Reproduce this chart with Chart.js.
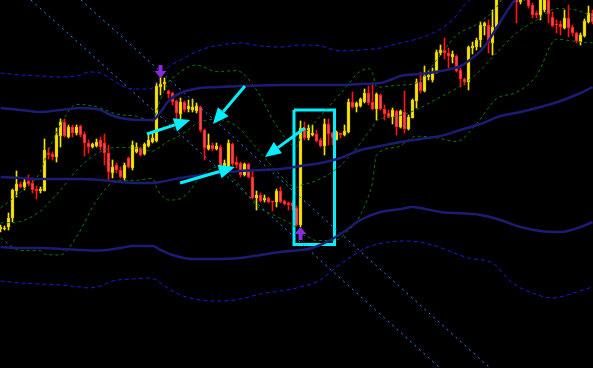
<!DOCTYPE html>
<html>
<head>
<meta charset="utf-8">
<style>
  html, body { margin: 0; padding: 0; background: #000; }
  #wrap { width: 593px; height: 368px; }
</style>
<script src="https://cdn.jsdelivr.net/npm/chart.js@4.4.0/dist/chart.umd.min.js"></script>
</head>
<body>
<div id="wrap"><canvas id="chart"></canvas></div>
<script>
// candle data, one value per bar (price in points)
const opens = [139,139,141,150,177,184,181,187,185,179,177,177,215,214,211,232,246,231,241,235,
  242,234,225,221,222,228,225,215,195,203,198,190,210,200,216,220,214,222,226,227,
  281,284,277,275,267,254,266,259,258,257,261,238,219,223,219,221,201,201,224,206,
  205,193,204,191,170,173,168,170,167,166,177,167,165,165,160,143,240,230,233,234,
  228,222,244,235,228,235,233,236,266,261,262,266,275,266,259,273,259,255,251,257,
  241,256,239,250,267,286,277,291,288,295,315,318,315,311,312,298,289,286,320,321,
  328,342,343,325,341,371,378,374,380,376,366,370,370,363,355,353,358,368,351,344,
  344,340,350,341,335,326,332,346,355];
const highs = [143,142,155,179,197,186,189,193,190,182,181,229,220,216,240,249,249,243,243,243,
  243,236,228,225,229,231,234,223,208,205,201,205,211,227,225,221,225,233,235,285,
  293,290,278,276,268,270,267,268,269,265,262,239,234,225,225,223,208,228,225,211,
  206,205,205,197,177,175,173,171,167,179,181,168,166,167,162,247,246,243,243,238,
  230,249,249,236,237,235,243,269,276,266,270,279,282,285,275,274,263,258,260,258,
  258,277,253,269,289,296,302,297,300,318,323,330,320,317,313,300,290,322,326,330,
  346,346,348,358,376,382,384,385,383,380,371,380,373,365,357,373,372,371,356,348,
  347,358,363,343,336,335,349,362,358];
const lows = [136,138,138,146,171,180,178,182,175,169,175,177,209,208,206,221,231,230,231,233,
  231,212,215,220,221,218,203,188,190,195,190,188,200,198,215,212,213,221,225,226,
  273,278,270,263,248,248,256,256,256,255,236,208,218,217,218,200,200,200,202,200,
  191,192,190,169,158,166,166,165,157,161,165,163,158,158,142,141,228,228,232,226,
  221,213,223,223,228,230,232,235,260,256,261,265,263,258,248,258,248,250,244,233,
  240,235,238,250,260,275,276,288,286,295,313,309,300,305,296,281,283,278,314,318,
  321,333,315,313,340,368,370,371,372,345,364,368,360,350,350,348,356,345,341,335,
  333,339,331,332,325,323,331,345,344];
const closes = [141,140,150,178,184,181,186,184,178,177,179,218,213,211,233,246,232,241,235,241,
  233,225,221,224,226,221,215,196,201,198,191,203,201,223,221,213,224,228,230,282,
  284,286,274,266,255,266,258,262,261,262,238,220,223,219,222,202,205,225,204,203,
  193,204,191,170,173,167,170,166,166,177,166,164,163,162,143,240,230,240,235,227,
  222,244,234,230,236,233,237,266,261,265,269,275,265,259,274,259,254,251,258,241,
  257,239,251,268,286,277,292,293,296,316,318,315,312,314,297,289,286,321,322,328,
  343,345,325,341,371,378,374,380,376,366,368,376,362,353,353,370,368,354,342,343,
  341,350,340,335,327,333,347,355,346];

// indicator lines: [bar, price]
const bandUpper = [[0,260],[5,258],[10,256],[15,258],[20,260],[25,258],[27,254],[30,250],[35,248],[38,248],
  [40,256],[42,267],[45,275],[50,280],[55,281],[60,282],[65,282.5],[70,283],[75,283],[80,283],[85,283],
  [90,284],[95,285],[98,289],[100,292],[105,294],[110,297],[115,302],[118,310],[120,317],[122,327],
  [124,340],[126,353],[128,365],[130,374],[135,393],[140,408],[148,423]];
const bandMiddle = [[0,191],[5,190],[10,189],[15,189],[20,189],[25,188],[30,186],[35,185],[38,185],[40,186],
  [45,190],[50,193],[55,195],[60,197],[65,198],[70,199],[75,202],[80,205],[85,210],[90,218],[95,222],
  [100,226],[105,229],[110,232],[115,238],[120,244],[125,252],[130,256],[135,261],[140,267],[145,275],[148,281]];
const bandLower = [[0,121],[5,120],[10,120],[15,119],[20,118],[25,117.5],[30,120],[33,122],[38,122],[40,118],
  [43,113],[48,109],[55,109],[60,110],[65,113],[70,116],[75,118],[78,120],[82,127],[85,134],[90,148],
  [95,156],[100,159],[103,161],[105,160],[110,156],[120,153],[125,148],[130,141],[135,137],[140,136],
  [145,141],[148,146]];
const outerUpper = [[0,295],[5,293],[10,292],[15,291],[20,293],[22,296],[25,295],[28,288],[30,283],[33,279],
  [37,279],[38,280],[40,292],[42,301],[45,308],[50,318],[55,323],[60,325],[65,322],[70,321],[75,323],
  [80,322],[85,317],[90,318],[95,320],[100,325],[105,330],[110,339],[113,348],[116,363],[118,371],[122,388]];
const outerLower = [[0,87],[5,85],[10,84],[15,83],[20,81],[22,80],[25,82],[28,87],[33,89],[37,90],[39,88],
  [41,82],[45,73],[50,68],[55,67],[60,69],[65,74],[70,77],[75,81],[80,88],[83,98],[88,112],[92,121],
  [97,126],[102,127],[108,123],[117,110],[123,105],[128,85],[133,75],[138,70],[144,76],[148,81]];
const fastUpper = [[0,160],[5,176],[10,196.5],[11,207.6],[15,243],[19,263.6],[24,261.2],[29,253.9],[34,251.7],
  [38,247],[39,256.8],[40,268.6],[42,286],[44,293],[47,301.1],[49,302.9],[54,296.5],[59,297.4],[64,278],
  [69,242.3],[74,221.5],[75,230.2],[77,238.4],[79,247.4],[84,270.1],[87,283.6],[89,293.7],[92,299.5],
  [93,295.4],[94,281.1],[95,281],[99,282.7],[104,285],[109,307.8],[114,332.9],[119,343.5],[124,360.9],
  [129,394.5],[134,403.5],[139,390],[144,389],[148,378]];
const fastMiddle = [[0,145],[5,146.7],[10,156.9],[11,160.8],[15,178],[19,197.4],[24,214.2],[29,220.5],
  [34,219.7],[38,216.8],[39,218.8],[40,221.4],[42,227],[44,230.6],[47,238.3],[49,244.5],[54,248.7],
  [59,241.8],[64,220.1],[69,196.9],[74,180.7],[75,182.6],[77,184.6],[79,187.4],[84,199.1],[87,210.8],
  [89,219.9],[92,235.7],[93,240.6],[94,247.1],[99,251.7],[104,258.4],[109,269],[114,279.7],[119,293.9],
  [124,315.1],[129,335.1],[134,347.9],[139,359.4],[144,357.8],[148,351.5]];
const fastLower = [[0,130],[5,117.5],[10,117.3],[11,114],[15,113],[19,131.2],[24,167.2],[29,187.1],
  [34,187.7],[38,189.7],[39,180.8],[40,174.1],[42,168],[44,168.2],[47,175.5],[49,186.1],[54,200.9],
  [59,186.2],[64,162.3],[69,151.5],[74,139.9],[75,135],[77,130.8],[79,127.4],[84,128.1],[87,137.9],
  [89,146.1],[92,171.9],[93,185.7],[94,213.1],[99,220.7],[104,231.8],[109,230.2],[114,226.5],
  [119,244.3],[124,269.3],[129,275.7],[134,292.3],[139,328.8],[144,326.4],[148,325.1]];

// drawn objects
const channelLines = [[[7.6,368],[109.9,0]], [[20.1,368],[122.4,0]]];
const boxX = [73.375, 83.5];
const boxY = [123.5, 258];
const arrowFrom = [[36.6,234],[61.1,282],[44.9,185],[76.1,240]];
const arrowTo = [[47.4,248],[53.1,244],[58.6,201],[66.1,211]];
const sellSignals = [[40,290]];
const buySignals = [[75,141]];

const bars = opens.map((o, i) => i);
const up = opens.map((o, i) => closes[i] >= o);

function pts(list) { return list.map(([x, y]) => ({ x, y })); }
function band(list, color, width, dash) {
  return { type: 'line', data: pts(list), borderColor: color, borderWidth: width,
    borderDash: dash, pointRadius: 0, cubicInterpolationMode: 'monotone', fill: false, order: 0 };
}

const boxPts = [[boxX[0],boxY[1]],[boxX[1],boxY[1]],[boxX[1],boxY[0]],[boxX[0],boxY[0]],[boxX[0],boxY[1]]];

const drawings = {
  id: 'drawings',
  afterDatasetsDraw(chart) {
    const c = chart.ctx, sx = chart.scales.x, sy = chart.scales.y;
    c.save();
    c.fillStyle = '#00f0ff';
    c.strokeStyle = '#00f0ff';
    arrowFrom.forEach((f, k) => {
      const x1 = sx.getPixelForValue(f[0]), y1 = sy.getPixelForValue(f[1]);
      const x2 = sx.getPixelForValue(arrowTo[k][0]), y2 = sy.getPixelForValue(arrowTo[k][1]);
      const a = Math.atan2(y2 - y1, x2 - x1);
      const hl = 16, hw = 7;
      c.lineWidth = 3;
      c.beginPath();
      c.moveTo(x1, y1);
      c.lineTo(x2 - hl * Math.cos(a), y2 - hl * Math.sin(a));
      c.stroke();
      c.beginPath();
      c.moveTo(x2, y2);
      c.lineTo(x2 - hl * Math.cos(a) + hw * Math.sin(a), y2 - hl * Math.sin(a) - hw * Math.cos(a));
      c.lineTo(x2 - hl * Math.cos(a) - hw * Math.sin(a), y2 - hl * Math.sin(a) + hw * Math.cos(a));
      c.closePath();
      c.fill();
    });
    c.fillStyle = '#8a2be2';
    const sig = (x, y, dir) => {
      c.beginPath();
      c.moveTo(x, y);
      c.lineTo(x - 6, y + dir * 7);
      c.lineTo(x - 2, y + dir * 7);
      c.lineTo(x - 2, y + dir * 13);
      c.lineTo(x + 2, y + dir * 13);
      c.lineTo(x + 2, y + dir * 7);
      c.lineTo(x + 6, y + dir * 7);
      c.closePath();
      c.fill();
    };
    sellSignals.forEach(([i, p]) => sig(sx.getPixelForValue(i), sy.getPixelForValue(p), -1));
    buySignals.forEach(([i, p]) => sig(sx.getPixelForValue(i), sy.getPixelForValue(p), 1));
    c.restore();
  }
};

new Chart(document.getElementById('chart'), {
  type: 'bar',
  data: {
    datasets: [
      band(bandUpper, '#1c1c74', 2.5, []),
      band(bandMiddle, '#1c1c74', 2.5, []),
      band(bandLower, '#1c1c74', 2.5, []),
      band(outerUpper, '#1a1ae0', 1, [4, 3]),
      band(outerLower, '#1a1ae0', 1, [4, 3]),
      band(fastUpper, '#0a7a0a', 1, [3, 3]),
      band(fastMiddle, '#0a7a0a', 1, [3, 3]),
      band(fastLower, '#0a7a0a', 1, [3, 3]),
      ...channelLines.map(l => ({ type: 'line', data: pts(l), borderColor: '#1e90ff', borderWidth: 1,
        borderDash: [2, 4], pointRadius: 0, order: 0 })),
      { type: 'line', data: pts(boxPts), borderColor: '#00f0ff', borderWidth: 3, pointRadius: 0,
        tension: 0, borderJoinStyle: 'miter', order: 0 },
      {
        label: 'wick',
        data: bars.map(i => ({ x: i, y: [lows[i], highs[i]] })),
        backgroundColor: up.map(u => u ? '#f2e200' : '#ff1414'),
        barThickness: 1, grouped: false, order: 2
      },
      {
        label: 'body',
        data: bars.map(i => ({ x: i, y: [opens[i], closes[i]] })),
        backgroundColor: up.map(u => u ? '#f8e800' : '#e0505a'),
        borderColor: up.map(u => u ? '#e0c800' : '#ff1818'),
        borderWidth: 1, borderSkipped: false, minBarLength: 1,
        barThickness: 3, grouped: false, order: 1
      }
    ]
  },
  options: {
    responsive: true,
    maintainAspectRatio: false,
    animation: false,
    layout: { padding: 0 },
    plugins: { legend: { display: false }, tooltip: { enabled: false } },
    scales: {
      x: { type: 'linear', min: -0.125, max: 148.125, offset: false, display: false },
      y: { min: 0, max: 368, display: false }
    }
  },
  plugins: [drawings]
});
</script>
</body>
</html>
